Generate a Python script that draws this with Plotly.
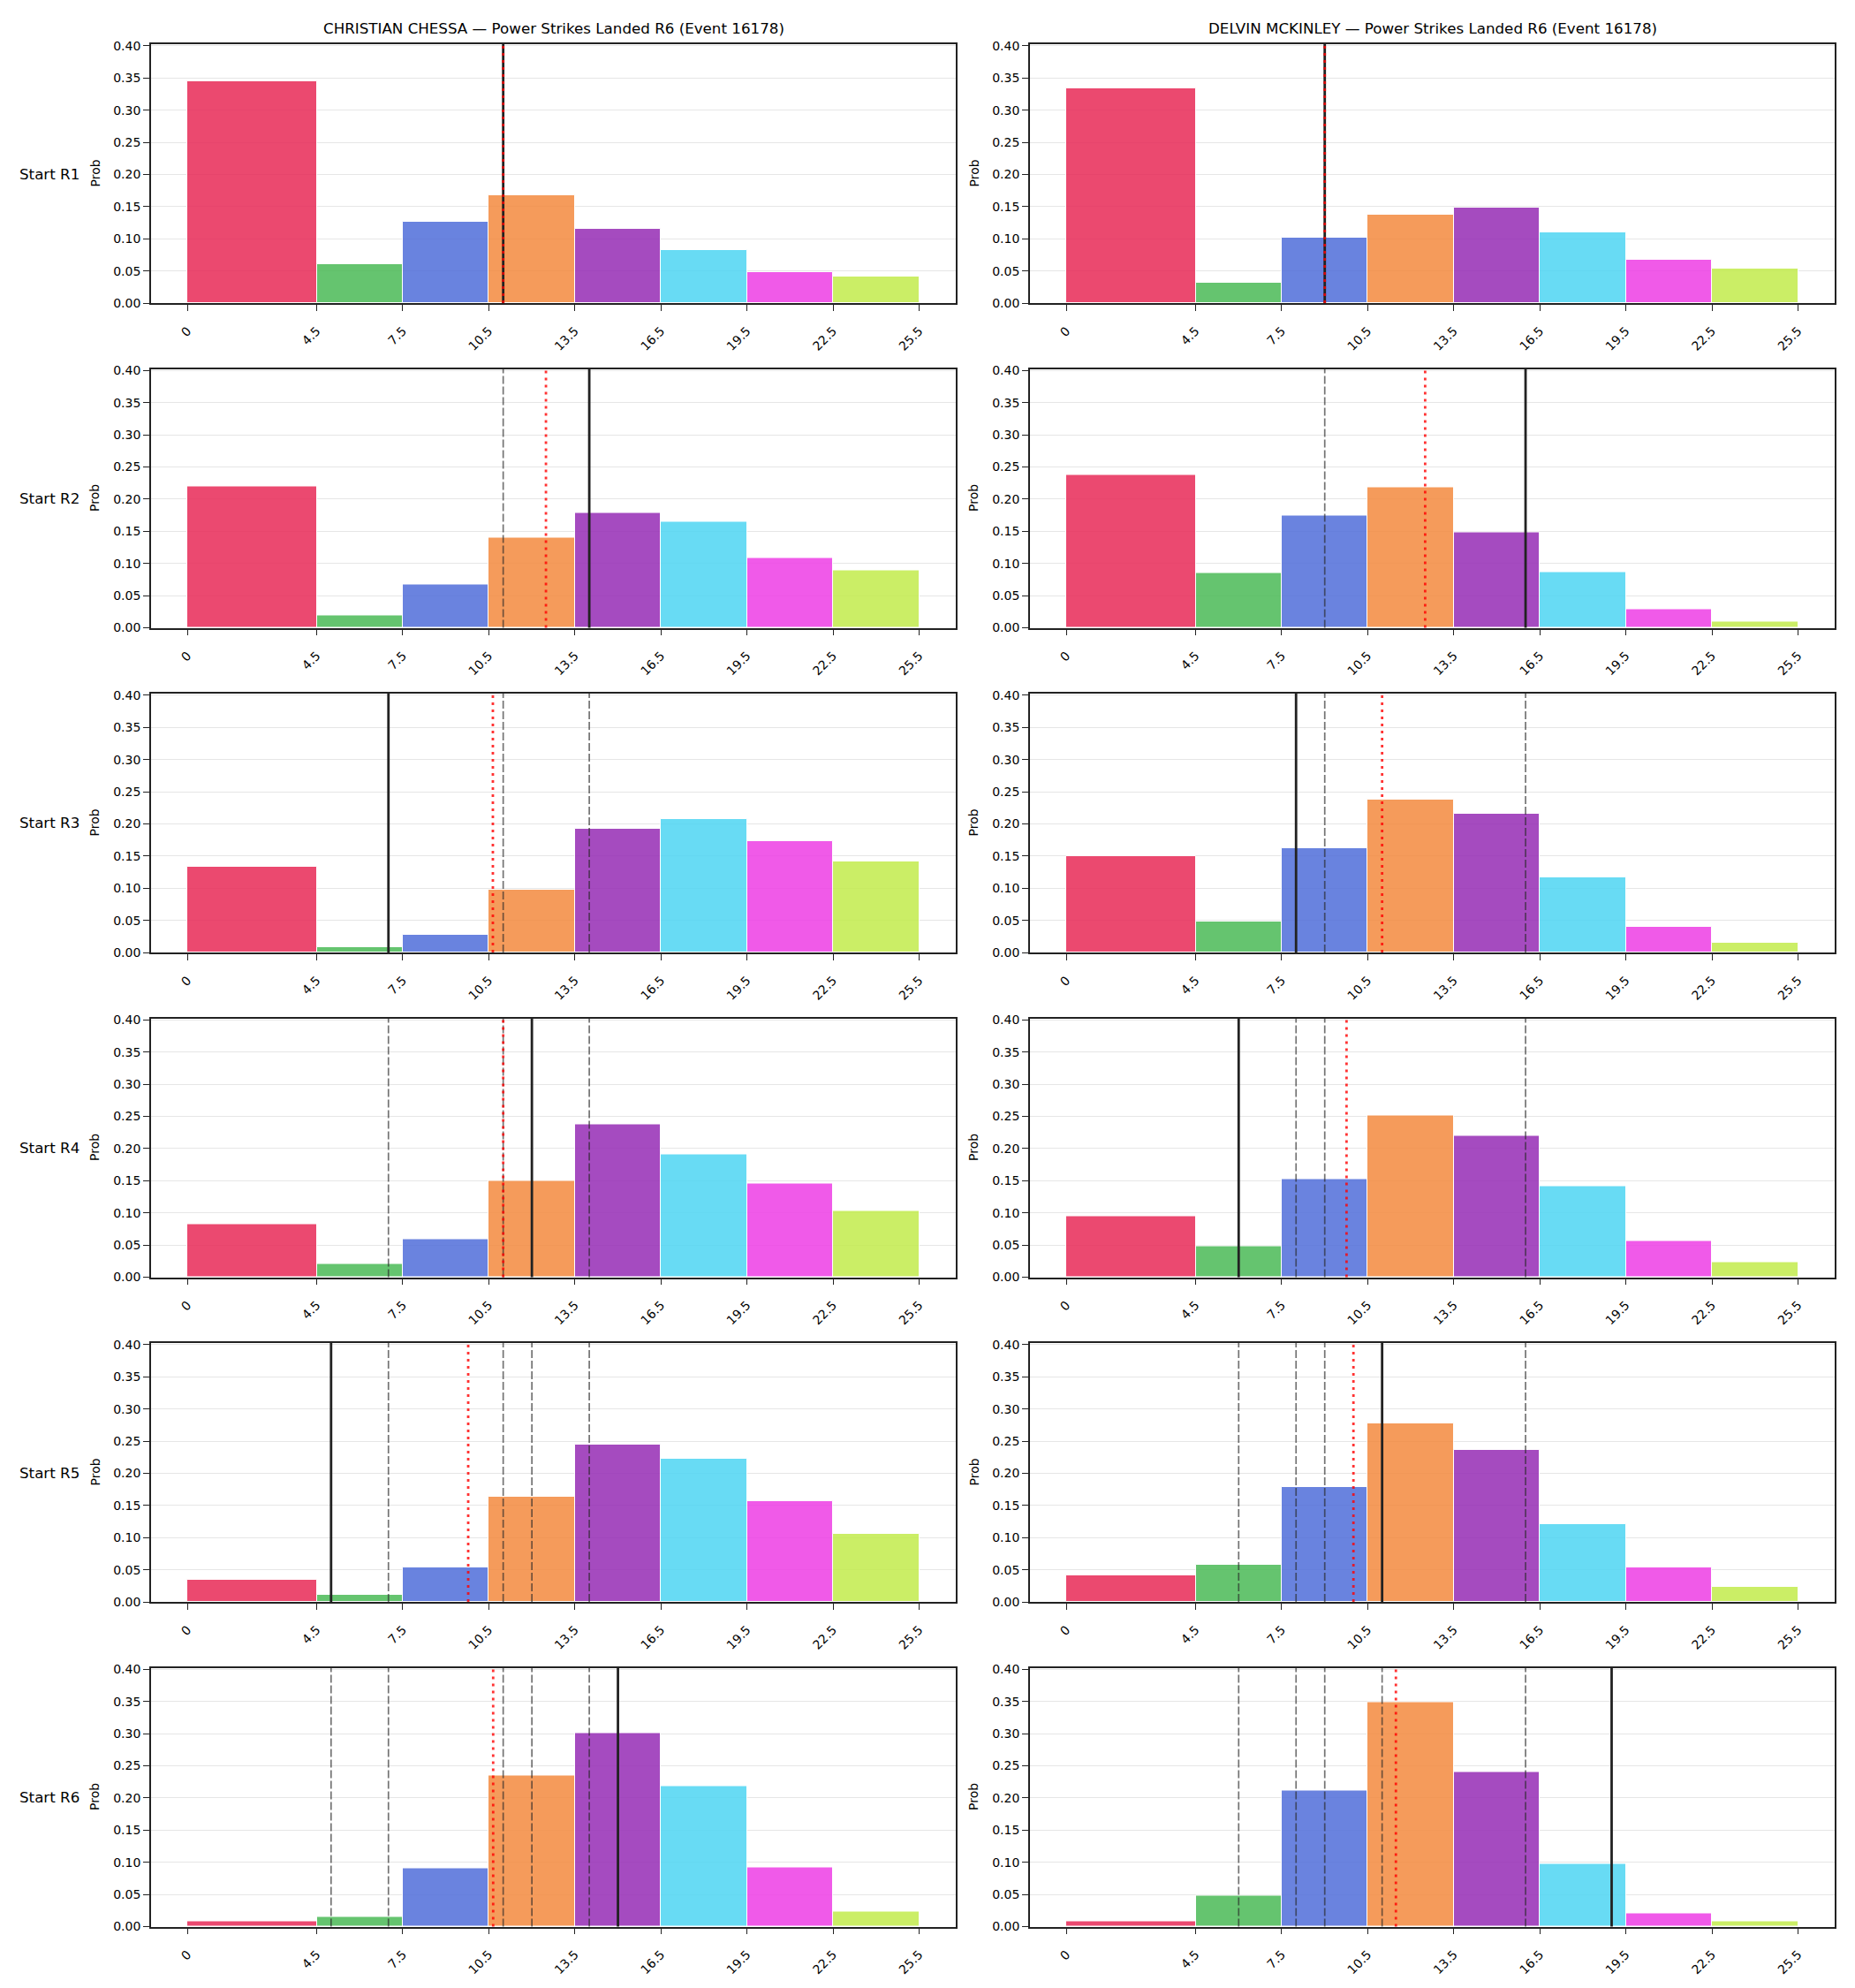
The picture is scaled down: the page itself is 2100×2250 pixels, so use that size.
import plotly.graph_objects as go

# ---------------- data ----------------
fighters = ["CHRISTIAN CHESSA", "DELVIN MCKINLEY"]
stat_title = "Power Strikes Landed R6 (Event 16178)"
row_labels = ["Start R1", "Start R2", "Start R3", "Start R4", "Start R5", "Start R6"]
bin_edges = [0, 4.5, 7.5, 10.5, 13.5, 16.5, 19.5, 22.5, 25.5]
tick_text = ["0", "4.5", "7.5", "10.5", "13.5", "16.5", "19.5", "22.5", "25.5"]
bar_colors = ["#E82A57", "#4BBA56", "#506EDA", "#F48A3F", "#962CB5", "#4ED5F3", "#EE3EE5", "#C2EC4C"]

chessa_probs = [
    [0.345, 0.060, 0.127, 0.167, 0.116, 0.082, 0.048, 0.041],
    [0.220, 0.019, 0.067, 0.140, 0.178, 0.165, 0.108, 0.089],
    [0.133, 0.008, 0.027, 0.098, 0.193, 0.208, 0.173, 0.142],
    [0.082, 0.020, 0.059, 0.150, 0.237, 0.191, 0.146, 0.103],
    [0.035, 0.011, 0.053, 0.163, 0.244, 0.223, 0.157, 0.106],
    [0.008, 0.015, 0.091, 0.235, 0.301, 0.218, 0.092, 0.024],
]
mckinley_probs = [
    [0.334, 0.031, 0.101, 0.138, 0.149, 0.110, 0.068, 0.054],
    [0.238, 0.085, 0.174, 0.218, 0.149, 0.087, 0.029, 0.009],
    [0.150, 0.048, 0.162, 0.237, 0.216, 0.117, 0.040, 0.015],
    [0.095, 0.048, 0.153, 0.252, 0.220, 0.141, 0.056, 0.024],
    [0.041, 0.058, 0.178, 0.278, 0.236, 0.121, 0.053, 0.023],
    [0.008, 0.048, 0.212, 0.349, 0.241, 0.098, 0.020, 0.008],
]
chessa_lines = [11, 14, 7, 12, 5, 15]
mckinley_lines = [9, 16, 8, 6, 11, 19]
chessa_means = [11.0, 12.49, 10.64, 11.0, 9.78, 10.65]
mckinley_means = [9.0, 12.5, 11.0, 9.76, 10.0, 11.48]

probs = [chessa_probs, mckinley_probs]
lines = [chessa_lines, mckinley_lines]
means = [chessa_means, mckinley_means]

# ---------------- layout geometry (pixels) ----------------
W, H = 2100, 2250
col_x = [(171, 1082), (1166, 2077)]
row_y = [(50, 343), (417.5, 710.5), (785, 1078), (1152.5, 1445.5), (1520, 1813), (1887.5, 2180.5)]
FONT = "DejaVu Sans"

centers = [(bin_edges[i] + bin_edges[i + 1]) / 2 for i in range(len(bin_edges) - 1)]
widths = [bin_edges[i + 1] - bin_edges[i] for i in range(len(bin_edges) - 1)]

fig = go.Figure()
shapes = []
annotations = []
layout = {}

for r in range(6):
    for c in range(2):
        k = r * 2 + c + 1
        xs = "x" if k == 1 else f"x{k}"
        ys = "y" if k == 1 else f"y{k}"
        fig.add_trace(go.Bar(
            x=centers, y=probs[c][r], width=widths,
            marker=dict(color=bar_colors, opacity=0.85, line=dict(color="white", width=1)),
            xaxis=xs, yaxis=ys, showlegend=False,
        ))
        x0, x1 = col_x[c]
        t, b = row_y[r]
        layout[f"xaxis{k}"] = dict(
            domain=[x0 / W, x1 / W], anchor=ys, range=[-1.275, 26.775],
            tickmode="array", tickvals=bin_edges, ticktext=tick_text, tickangle=-45,
            ticks="outside", ticklen=7, tickwidth=1.3, tickcolor="#222",
            ticklabelstandoff=9,
            showline=True, mirror=True, linecolor="#222", linewidth=1.8,
            showgrid=False, zeroline=False,
            tickfont=dict(family=FONT, size=14, color="black"),
        )
        layout[f"yaxis{k}"] = dict(
            domain=[1 - b / H, 1 - t / H], anchor=xs, range=[0, 0.4025],
            tickmode="linear", tick0=0, dtick=0.05, tickformat=".2f",
            ticks="outside", ticklen=7, tickwidth=1.3, tickcolor="#222",
            showline=True, mirror=True, linecolor="#222", linewidth=1.8,
            showgrid=True, gridcolor="#e6e6e6", gridwidth=1, zeroline=False,
            tickfont=dict(family=FONT, size=14, color="black"),
        )
        # previous rounds' lines (dashed)
        for p in range(r):
            shapes.append(dict(type="line", xref=xs, yref=f"{ys} domain",
                               x0=lines[c][p], x1=lines[c][p], y0=0, y1=1,
                               line=dict(color="rgba(40,40,40,0.65)", width=1.7, dash="9px,3px")))
        # current line (solid)
        shapes.append(dict(type="line", xref=xs, yref=f"{ys} domain",
                           x0=lines[c][r], x1=lines[c][r], y0=0, y1=1,
                           line=dict(color="#222222", width=2.8)))
        # mean (red dotted)
        shapes.append(dict(type="line", xref=xs, yref=f"{ys} domain",
                           x0=means[c][r], x1=means[c][r], y0=0, y1=1,
                           line=dict(color="rgba(255,0,0,0.8)", width=2.8, dash="3px,5px")))
        # "Prob" label
        px = 107 if c == 0 else 1102
        annotations.append(dict(text="Prob", xref="paper", yref="paper",
                                x=px / W, y=1 - (t + b) / 2 / H, textangle=-90,
                                showarrow=False, xanchor="center", yanchor="middle",
                                font=dict(family=FONT, size=14, color="black")))
    # row label
    t, b = row_y[r]
    annotations.append(dict(text=row_labels[r], xref="paper", yref="paper",
                            x=92 / W, y=1 - (t + b) / 2 / H, showarrow=False,
                            xanchor="right", yanchor="middle",
                            font=dict(family=FONT, size=16.7, color="black")))

for c in range(2):
    x0, x1 = col_x[c]
    annotations.append(dict(text=f"{fighters[c]} \u2014 {stat_title}", xref="paper", yref="paper",
                            x=(x0 + x1) / 2 / W, y=1 - 32 / H, showarrow=False,
                            xanchor="center", yanchor="middle",
                            font=dict(family=FONT, size=16.7, color="black")))

fig.update_layout(
    width=W, height=H, margin=dict(l=0, r=0, t=0, b=0),
    paper_bgcolor="white", plot_bgcolor="white",
    template="none", bargap=0,
    shapes=shapes, annotations=annotations,
    font=dict(family=FONT, color="black"),
    **layout,
)

fig.write_html("out.html")
